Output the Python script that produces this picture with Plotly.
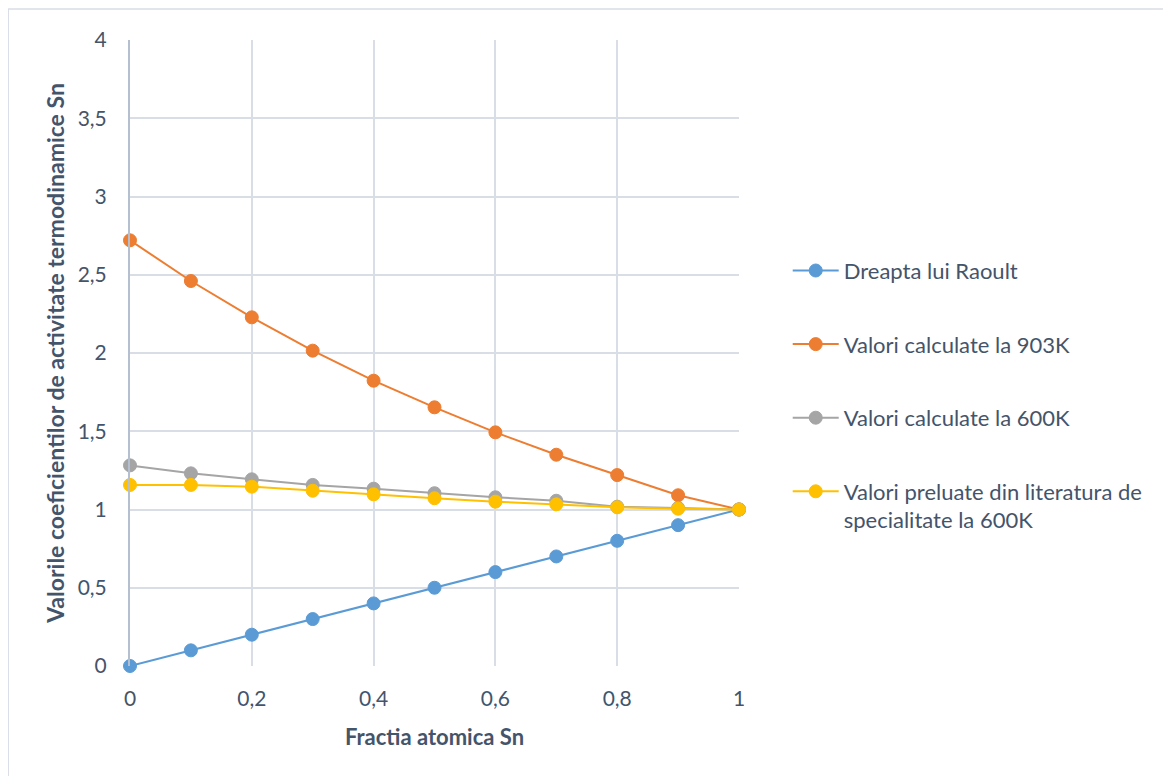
import plotly.graph_objects as go

x_vals = [0, 0.1, 0.2, 0.3, 0.4, 0.5, 0.6, 0.7, 0.8, 0.9, 1.0]
raoult = [0, 0.1, 0.2, 0.3, 0.4, 0.5, 0.6, 0.7, 0.8, 0.9, 1.0]
calc_903 = [2.72, 2.46, 2.228, 2.015, 1.823, 1.653, 1.493, 1.35, 1.22, 1.091, 1.0]
calc_600 = [1.282, 1.231, 1.193, 1.157, 1.133, 1.104, 1.078, 1.056, 1.018, 1.01, 1.0]
lit_600 = [1.157, 1.157, 1.146, 1.12, 1.097, 1.072, 1.05, 1.033, 1.014, 1.005, 1.0]

names = ["Dreapta lui Raoult", "Valori calculate la 903K", "Valori calculate la 600K",
         "Valori preluate din literatura de<br>specialitate la 600K"]
colors = ["#5B9BD5", "#ED7D31", "#A5A5A5", "#FFC000"]
series = [raoult, calc_903, calc_600, lit_600]

x_ticks = [0, 0.2, 0.4, 0.6, 0.8, 1.0]
x_tick_text = ["0", "0,2", "0,4", "0,6", "0,8", "1"]
y_ticks = [0, 0.5, 1, 1.5, 2, 2.5, 3, 3.5, 4]
y_tick_text = ["0", "0,5", "1", "1,5", "2", "2,5", "3", "3,5", "4"]

FONT = "Lato, 'Open Sans', sans-serif"
TXT = "#44546A"

fig = go.Figure()
for i, (name, col, ys) in enumerate(zip(names, colors, series)):
    fig.add_trace(go.Scatter(
        x=x_vals, y=ys, name=name, mode="lines+markers",
        line=dict(color=col, width=2),
        marker=dict(color=col, size=13, line=dict(color=col, width=1)),
        legendgroup=str(i), cliponaxis=False,
    ))

fig.update_layout(
    width=1171, height=776,
    margin=dict(l=122, r=440, t=32, b=118),
    paper_bgcolor="white", plot_bgcolor="white",
    font=dict(family=FONT, color=TXT, size=21),
    showlegend=True,
    legend=dict(x=1.08, y=0.665, xanchor="left", yanchor="top",
                font=dict(size=22, color=TXT), tracegroupgap=42,
                valign="top", itemwidth=46, bgcolor="rgba(0,0,0,0)"),
    xaxis=dict(range=[0, 1], tickvals=x_ticks, ticktext=x_tick_text,
               showgrid=True, gridcolor="#D9DEE6", gridwidth=1.5,
               zeroline=False, showline=False, ticks="",
               ticklabelstandoff=18,
               tickfont=dict(size=21, color=TXT),
               title=dict(text="<b>Fractia atomica Sn</b>", font=dict(size=22, color=TXT), standoff=20)),
    yaxis=dict(range=[0, 4], tickvals=y_ticks, ticktext=y_tick_text,
               showgrid=True, gridcolor="#D9DEE6", gridwidth=1.5,
               zeroline=False, showline=True, linecolor="#B4C0D0", linewidth=2,
               ticks="", ticklabelstandoff=17,
               tickfont=dict(size=21, color=TXT),
               title=dict(text="<b>Valorile coeficientilor de activitate termodinamice Sn</b>",
                          font=dict(size=23, color=TXT), standoff=7)),
    shapes=[dict(type="rect", xref="paper", yref="paper",
                 x0=-0.2, x1=1.75, y0=-0.2, y1=1.0495,
                 line=dict(color="#D9DEE6", width=1.5), fillcolor="rgba(0,0,0,0)", layer="below")],
)

fig.write_html("out.html")
